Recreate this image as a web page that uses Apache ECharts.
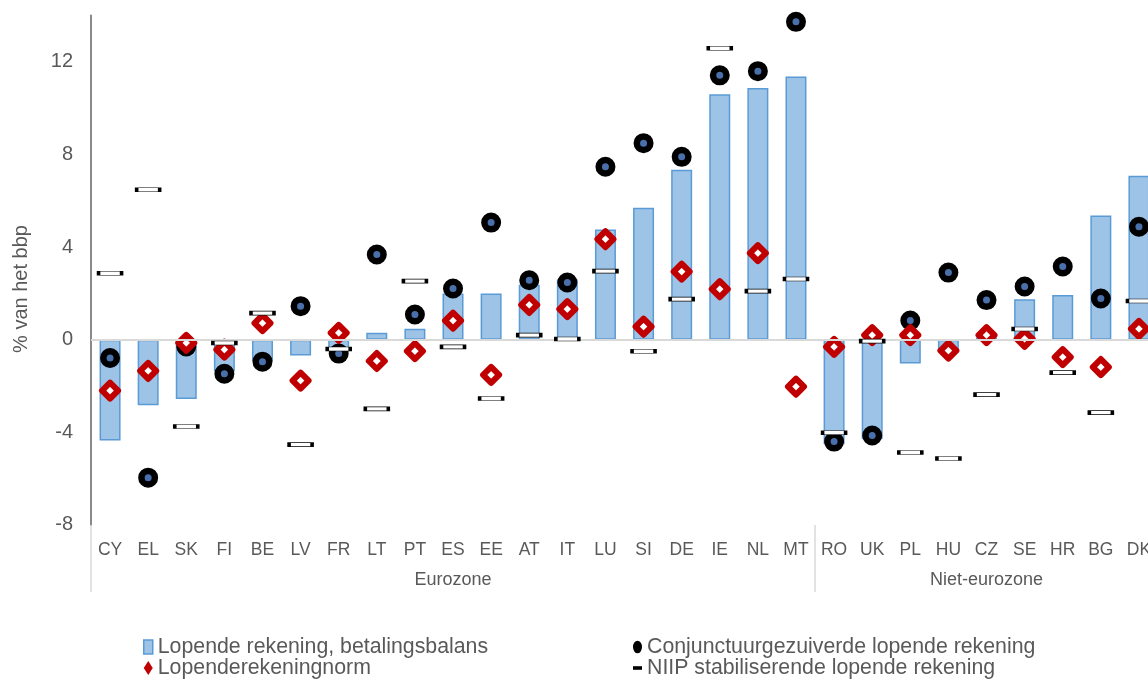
<!DOCTYPE html>
<html>
<head>
<meta charset="utf-8">
<script src="https://cdn.jsdelivr.net/npm/echarts@6/dist/echarts.min.js"></script>
<style>
html,body{margin:0;padding:0;background:#fff;}
#chart{width:1148px;height:680px;}
</style>
</head>
<body>
<div id="chart"></div>
<script>
const countries = ['CY','EL','SK','FI','BE','LV','FR','LT','PT','ES','EE','AT','IT','LU','SI','DE','IE','NL','MT','RO','UK','PL','HU','CZ','SE','HR','BG','DK'];
const groupNames = ['Eurozone','Niet-eurozone'];
const groupSizes = [19, 9];
const yTicks = [-8, -4, 0, 4, 8, 12];

const currentAccount = [-4.35,-2.83,-2.56,-1.37,-0.93,-0.68,-0.5,0.3,0.47,2.0,2.0,2.37,2.6,4.76,5.7,7.34,10.6,10.87,11.37,-4.5,-4.28,-1.03,-0.45,0.1,1.75,1.93,5.36,7.08];
const cyclicallyAdjusted = [-0.79,-5.96,-0.29,-1.47,-0.95,1.45,-0.6,3.68,1.09,2.21,5.06,2.57,2.47,7.47,8.49,7.9,11.42,11.6,13.73,-4.4,-4.14,0.83,2.9,1.71,2.3,3.16,1.78,4.88];
const norm = [-2.2,-1.35,-0.14,-0.43,0.72,-1.77,0.29,-0.92,-0.49,0.82,-1.52,1.5,1.32,4.34,0.56,2.94,2.18,3.74,-2.03,-0.31,0.2,0.2,-0.47,0.2,0.04,-0.75,-1.18,0.47];
const niip = [2.87,6.48,-3.75,-0.14,1.15,-4.53,-0.4,-2.99,2.53,-0.31,-2.54,0.2,0.03,2.96,-0.5,1.75,12.59,2.1,2.62,-4.02,-0.06,-4.87,-5.13,-2.37,0.46,-1.42,-3.15,1.67];

const seriesNames = ['Lopende rekening, betalingsbalans','Conjunctuurgezuiverde lopende rekening','Lopenderekeningnorm','NIIP stabiliserende lopende rekening'];
const yAxisName = '% van het bbp';

// Build half-step group axis (boundaryGap false): labels at group centres, ticks at group boundaries
const totalHalf = countries.length * 2;
const groupAxisData = new Array(totalHalf + 1).fill('');
const boundaryIdx = [0];
let acc = 0;
groupSizes.forEach((s, i) => {
  groupAxisData[acc * 2 + s] = groupNames[i];
  acc += s;
  boundaryIdx.push(acc * 2);
});

const FONT = '"Liberation Sans", Arial, sans-serif';
const TXT = '#595959';

const chart = echarts.init(document.getElementById('chart'));
chart.setOption({
  animation: false,
  textStyle: { fontFamily: FONT },
  grid: { left: 91, width: 1067, top: 15.6, height: 509.3, containLabel: false, outerBoundsMode: 'none' },
  xAxis: [
    {
      type: 'category', data: countries, position: 'bottom',
      axisLine: { show: false, onZero: false }, axisTick: { show: false },
      axisLabel: { color: TXT, fontSize: 17.5, margin: 16, interval: 0, fontFamily: FONT }
    },
    {
      type: 'category', data: groupAxisData, position: 'bottom', boundaryGap: false,
      axisLine: { show: false, onZero: false },
      axisTick: { show: true, length: 67, interval: (i) => boundaryIdx.indexOf(i) >= 0,
                  lineStyle: { color: '#D9D9D9', width: 1.5 } },
      axisLabel: { color: TXT, fontSize: 18, margin: 46, interval: 0, fontFamily: FONT }
    }
  ],
  yAxis: {
    type: 'value', min: -8, max: 14, interval: 4,
    axisLine: { show: true, lineStyle: { color: '#898989', width: 2 } },
    axisTick: { show: false },
    splitLine: { show: false },
    axisLabel: { color: TXT, fontSize: 20, margin: 18, fontFamily: FONT,
                 formatter: (v) => yTicks.indexOf(v) >= 0 ? String(v) : '' }
  },
  graphic: [{
    type: 'text', x: 21, y: 289, rotation: Math.PI / 2,
    style: { text: yAxisName, fill: TXT, fontSize: 20, fontFamily: FONT, align: 'center', verticalAlign: 'middle' }
  }],
  legend: [
    {
      orient: 'vertical', left: 143, top: 636.5, height: 80, padding: 0, itemGap: 0, itemWidth: 9, itemHeight: 14,
      textStyle: { color: TXT, fontSize: 21.3, lineHeight: 21, fontFamily: FONT },
      data: [
        { name: seriesNames[0], icon: 'rect', itemStyle: { color: '#9DC3E6', borderColor: '#5B9BD5', borderWidth: 1.5 } },
        { name: seriesNames[2], icon: 'diamond', itemStyle: { color: '#C00000', borderWidth: 0 } }
      ]
    },
    {
      orient: 'vertical', left: 633, top: 636.5, height: 80, padding: 0, itemGap: 0, itemWidth: 9, itemHeight: 14,
      textStyle: { color: TXT, fontSize: 21.3, lineHeight: 21, fontFamily: FONT },
      data: [
        { name: seriesNames[1], icon: 'path://M5,0 A5,7 0 1,1 5,14 A5,7 0 1,1 5,0 Z', itemStyle: { color: '#000', borderWidth: 0 } },
        { name: seriesNames[3], icon: 'path://M0,0 L0,0 M10,14 L10,14 M0,5 L10,5 L10,9 L0,9 Z', itemStyle: { color: '#000', borderWidth: 0 } }
      ]
    }
  ],
  series: [
    {
      name: seriesNames[0], type: 'bar', data: currentAccount, barWidth: 21, z: 1,
      itemStyle: { color: '#9DC3E6', borderColor: '#5B9BD5', borderWidth: 1.5 },
      markLine: {
        silent: true, symbol: 'none', label: { show: false },
        lineStyle: { color: '#D9D9D9', width: 2, type: 'solid' },
        data: [{ yAxis: 0 }]
      }
    },
    {
      name: seriesNames[1], type: 'scatter', data: cyclicallyAdjusted, z: 3,
      symbol: 'circle', symbolSize: 13.5,
      itemStyle: { color: '#4A70AC', borderColor: '#000', borderWidth: 6.5, opacity: 1 }
    },
    {
      name: seriesNames[2], type: 'scatter', data: norm, z: 4,
      symbol: 'diamond', symbolSize: 16,
      itemStyle: { color: '#fff', borderColor: '#C00000', borderWidth: 6, borderJoin: 'round', opacity: 1 }
    },
    {
      name: seriesNames[3], type: 'scatter', data: niip, z: 5,
      symbol: 'rect', symbolSize: [23, 4],
      itemStyle: { color: '#fff', borderColor: '#000', borderWidth: 1.5, opacity: 1 }
    }
  ]
});
</script>
</body>
</html>
